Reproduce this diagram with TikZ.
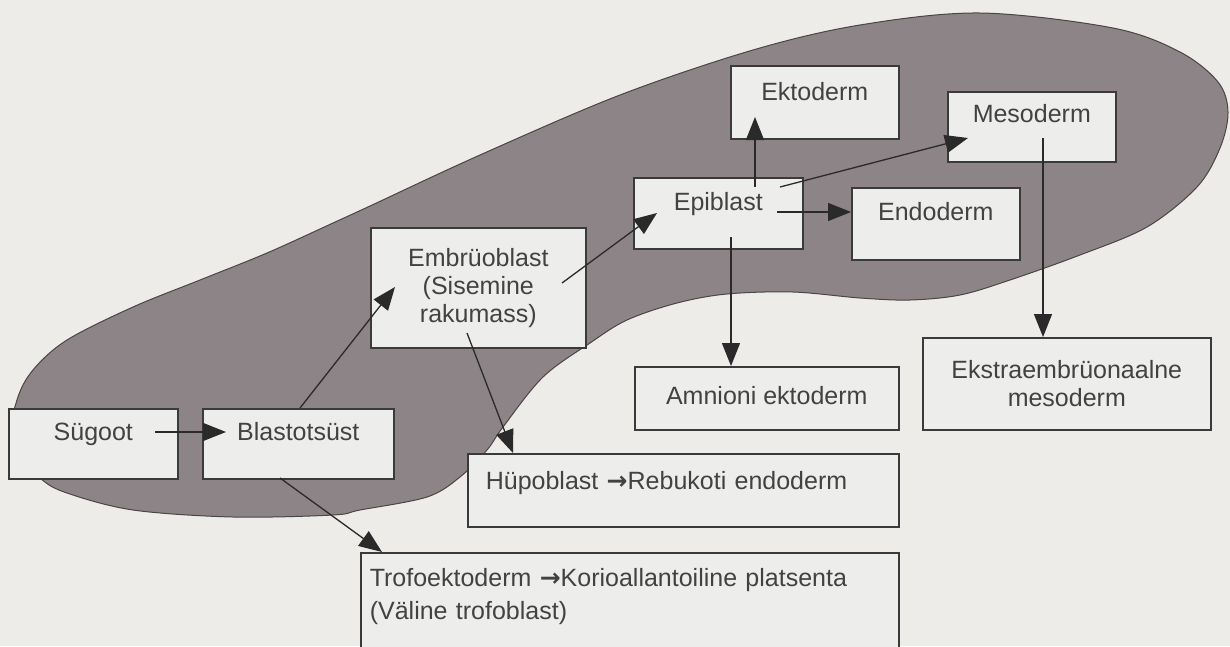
\documentclass[tikz,border=0pt]{standalone}
\usepackage{fontspec}
\setmainfont{Liberation Sans}
\newfontfamily\arrfont{DejaVu Sans}
\usetikzlibrary{arrows.meta}
\definecolor{bgc}{HTML}{EEECE8}
\definecolor{blobc}{HTML}{8C8486}
\definecolor{blobline}{HTML}{4A4546}
\definecolor{boxfill}{HTML}{EDEDEB}
\definecolor{boxline}{HTML}{3A3A3A}
\definecolor{txtc}{HTML}{424242}
\definecolor{arrc}{HTML}{2A2A2A}
\newcommand{\rarr}{{\arrfont\bfseries →}}
\begin{document}
\begin{tikzpicture}[x=1pt,y=-1pt,
  box/.style={draw=boxline, fill=boxfill, line width=1.6pt, rectangle, inner sep=0pt,
    anchor=north west, text=txtc, font=\fontsize{25}{28}\selectfont},
  oneline/.style={text height=18pt, text depth=24pt},
  conn/.style={draw=arrc, line width=1.3pt, -{Triangle[length=23pt,width=18pt]}}]
\fill[bgc] (0,0) rectangle (1230,646);
\useasboundingbox (0,0) rectangle (1230,646);
% blob
\filldraw[fill=blobc, draw=blobline, line width=1pt] plot[smooth cycle, tension=0.55] coordinates {
 (10,445) (17,400) (33,370) (67,340) (133,307) (200,280) (267,253) (333,223)
 (370,206) (480,155) (620,95) (753,50) (860,25) (980,13) (1113,28) (1180,52)
 (1218,82) (1228,112) (1220,148) (1197,187) (1147,227) (1080,255) (1010,280)
 (960,295) (910,300) (860,298) (793,292) (727,294) (677,303) (627,320)
 (590,343) (543,377) (503,427) (487,450) (460,477) (427,497) (360,510)
 (333,515) (233,517) (133,510) (67,493) (40,478)};
% boxes
\node[box, oneline, minimum width=169pt, minimum height=70pt] (sug) at (8,408) {Sügoot};
\node[box, oneline, minimum width=191pt, minimum height=70pt] (bla) at (202,408) {Blastotsüst};
\node[box, align=center, minimum width=215pt, minimum height=120pt] (emb) at (370,227) {Embrüoblast\\(Sisemine\\rakumass)};
\node[box, oneline, minimum width=169pt, minimum height=71pt] (epi) at (633,177) {Epiblast};
\node[box, oneline, text depth=22pt, minimum width=168pt, minimum height=73pt] (ekt) at (730,65) {Ektoderm};
\node[box, oneline, text depth=27pt, minimum width=168pt, minimum height=70pt] (mes) at (947,91) {Mesoderm};
\node[box, oneline, minimum width=168pt, minimum height=72pt] (endo) at (851,187) {Endoderm};
\node[box, oneline, text depth=5pt, minimum width=264pt, minimum height=63pt] (amn) at (634,366) {Amnioni ektoderm};
\node[box, align=center, minimum width=288pt, minimum height=92pt] (eks) at (922,337) {Ekstraembrüonaalne\\mesoderm};
\node[box, oneline, text depth=20pt, align=left, inner xsep=18pt, text width=395pt, minimum width=431pt, minimum height=73pt] (hup) at (467,453) {Hüpoblast \rarr Rebukoti endoderm};
\node[box, align=left, inner xsep=8pt, text width=520pt, minimum width=538pt, minimum height=110pt,
  text height=18pt, text depth=60pt, font=\fontsize{25}{33}\selectfont] (tro) at (360,552) {Trofoektoderm \rarr Korioallantoiline platsenta\\(Väline trofoblast)};
% connector end points
\coordinate (s1) at (155,432);
\coordinate (b1) at (bla.north -| 300,0);
\coordinate (e1) at (395,287);
\coordinate (m1) at (562,283);
\coordinate (p1) at (657,213);
\coordinate (p2) at (755,187);
\coordinate (k1) at (755,117);
\coordinate (p3) at (780,187);
\coordinate (ms1) at (968,138);
\coordinate (p4) at (777,212);
\coordinate (p5) at (731,237);
\coordinate (ms2) at (1043,138);
\coordinate (m2) at (467,333);
\coordinate (b2) at (280,478);
% connectors
\draw[conn] (s1) -- (s1 -| 226,0);
\draw[conn] (b1) -- (e1);
\draw[conn] (m1) -- (p1);
\draw[conn] (p2) -- (k1);
\draw[conn] (p3) -- (ms1);
\draw[conn] (p4) -- (p4 -| endo.west);
\draw[conn] (p5) -- (p5 |- amn.north);
\draw[conn] (ms2) -- (ms2 |- eks.north);
\draw[conn] (m2) -- (513,453);
\draw[conn] (b2) -- (382,552);
\end{tikzpicture}
\end{document}
